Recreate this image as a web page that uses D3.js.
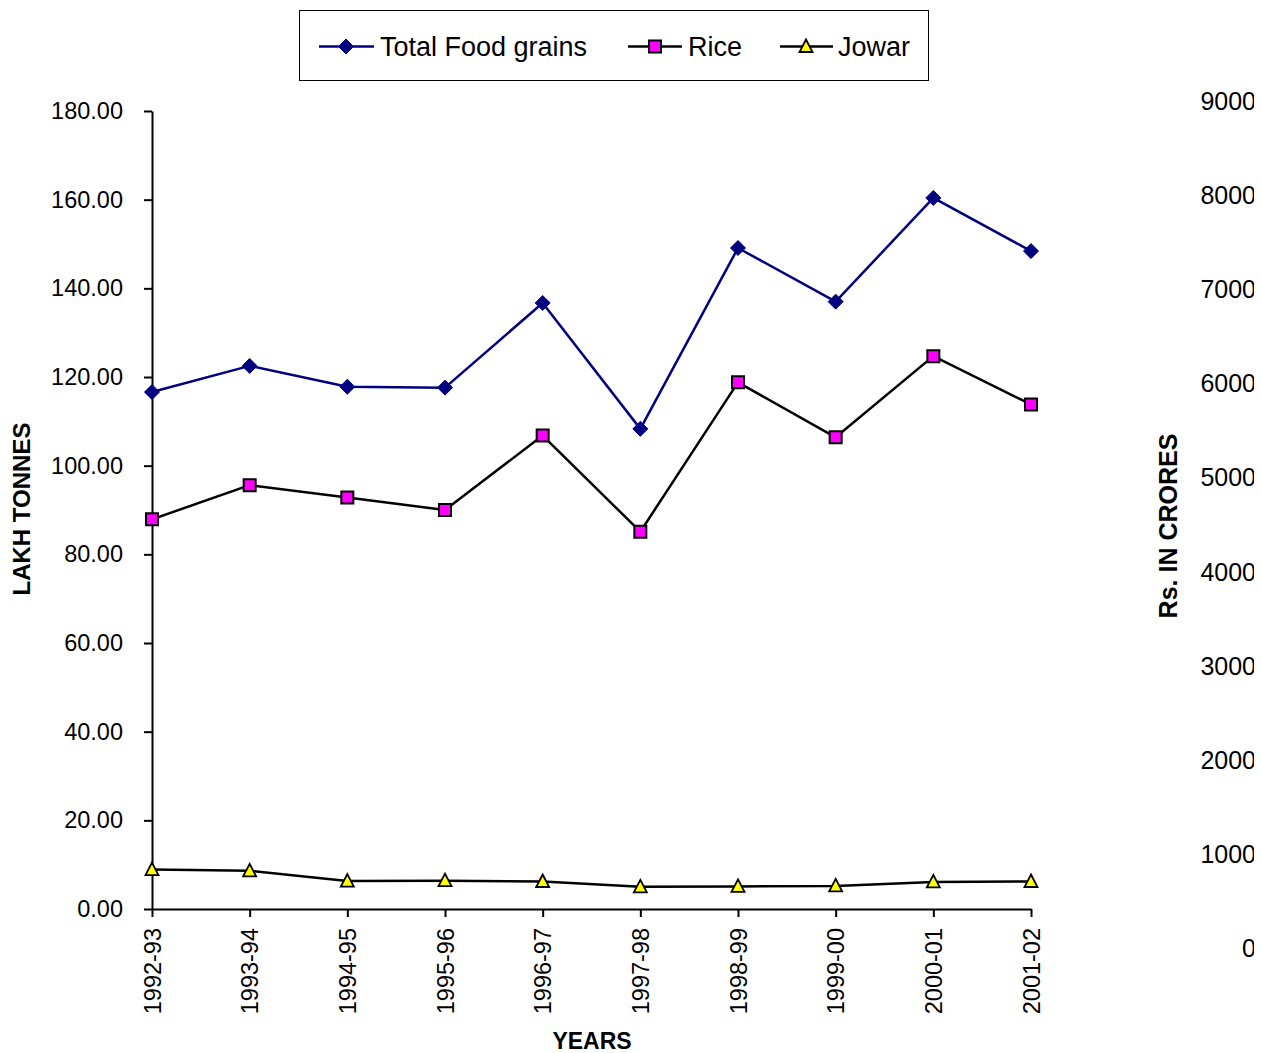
<!DOCTYPE html>
<html>
<head>
<meta charset="utf-8">
<script src="https://cdn.jsdelivr.net/npm/d3@7"></script>
<style>
  html, body { margin: 0; padding: 0; background: #fff; }
  svg { display: block; }
  text { font-family: "Liberation Sans", Arial, sans-serif; fill: #000; }
</style>
</head>
<body>
<svg id="chart" width="1261" height="1053"></svg>
<script>
// ---- data ----
const years = ["1992-93","1993-94","1994-95","1995-96","1996-97","1997-98","1998-99","1999-00","2000-01","2001-02"];
const totalFoodGrains = [116.6, 122.5, 117.8, 117.6, 136.7, 108.3, 149.1, 137.0, 160.4, 148.4];
const rice = [87.9, 95.6, 92.8, 90.0, 106.8, 85.1, 118.8, 106.4, 124.7, 113.8];
const jowar = [8.9, 8.6, 6.3, 6.4, 6.2, 5.0, 5.1, 5.2, 6.1, 6.2];
const leftTicks = [0, 20, 40, 60, 80, 100, 120, 140, 160, 180];
const rightTicks = [0, 1000, 2000, 3000, 4000, 5000, 6000, 7000, 8000, 9000];
const seriesNames = ["Total Food grains", "Rice", "Jowar"];

const svg = d3.select("#chart");

const x = d3.scalePoint().domain(years).range([152, 1031]);
const y = d3.scaleLinear().domain([0, 180]).range([909, 111]);
const yR = d3.scaleLinear().domain([0, 9000]).range([948, 101.5]);

// ---- left axis ----
const gy = svg.append("g").attr("transform", "translate(152,0)")
  .call(d3.axisLeft(y).tickValues(leftTicks).tickFormat(d3.format(".2f"))
    .tickSize(8).tickSizeOuter(0).tickPadding(21));
gy.selectAll("path, line").attr("stroke", "#000").attr("stroke-width", 2);
gy.selectAll("text").style("font-size", "23.5px").style("font-family", "Liberation Sans, Arial, sans-serif");

// ---- bottom axis ----
const gx = svg.append("g").attr("transform", "translate(0,909)")
  .call(d3.axisBottom(x).tickSize(8).tickSizeOuter(0));
gx.selectAll("path, line").attr("stroke", "#000").attr("stroke-width", 2);
gx.selectAll("text")
  .attr("transform", "rotate(-90)")
  .attr("x", -19).attr("y", 0).attr("dy", "0.35em")
  .attr("text-anchor", "end")
  .style("font-size", "23.5px").style("font-family", "Liberation Sans, Arial, sans-serif");

// ---- right axis labels (cut off at the edge) ----
svg.append("clipPath").attr("id", "rclip")
  .append("rect").attr("x", 0).attr("y", 0).attr("width", 1254).attr("height", 1053);
svg.append("g").attr("clip-path", "url(#rclip)")
  .selectAll("text").data(rightTicks).join("text")
  .attr("x", 1256).attr("y", d => yR(d)).attr("dy", "0.35em")
  .attr("text-anchor", "end")
  .style("font-size", "25px")
  .text(d => d);

// ---- axis titles ----
svg.append("text").attr("transform", "translate(30,509) rotate(-90)")
  .attr("text-anchor", "middle").style("font-size", "24px").style("font-weight", "bold")
  .text("LAKH  TONNES");
svg.append("text").attr("transform", "translate(1177,526) rotate(-90)")
  .attr("text-anchor", "middle").style("font-size", "25px").style("font-weight", "bold")
  .text("Rs. IN CRORES");
svg.append("text").attr("x", 592).attr("y", 1049)
  .attr("text-anchor", "middle").style("font-size", "23px").style("font-weight", "bold")
  .text("YEARS");

// ---- series ----
const diamond = "M0,-7.5L7.5,0L0,7.5L-7.5,0Z";
const square = "M-6,-6H6V6H-6Z";
const triangle = "M0,-7L6.5,5.5L-6.5,5.5Z";

const series = [
  { name: seriesNames[0], values: totalFoodGrains, line: "#000080", fill: "#000080", stroke: "#000080", sw: 1, shape: diamond },
  { name: seriesNames[1], values: rice, line: "#000000", fill: "#FF00FF", stroke: "#000000", sw: 2, shape: square },
  { name: seriesNames[2], values: jowar, line: "#000000", fill: "#FFFF00", stroke: "#000000", sw: 1.8, shape: triangle }
];

const lineGen = d3.line().x((d, i) => x(years[i])).y(d => y(d));

series.forEach(s => {
  svg.append("path").datum(s.values)
    .attr("fill", "none").attr("stroke", s.line).attr("stroke-width", 2.5)
    .attr("stroke-linejoin", "round")
    .attr("d", lineGen);
  svg.append("g").selectAll("path").data(s.values).join("path")
    .attr("transform", (d, i) => `translate(${x(years[i])},${y(d)})`)
    .attr("d", s.shape)
    .attr("fill", s.fill).attr("stroke", s.stroke).attr("stroke-width", s.sw)
    .attr("stroke-linejoin", "miter");
});

// ---- legend ----
const legend = svg.append("g");
legend.append("rect").attr("x", 299.5).attr("y", 10.5).attr("width", 629).attr("height", 70)
  .attr("fill", "#fff").attr("stroke", "#000").attr("stroke-width", 1);
const legendPos = [
  { x1: 319, x2: 374, mx: 346, tx: 380 },
  { x1: 628, x2: 682, mx: 655, tx: 688 },
  { x1: 780, x2: 833, mx: 806, tx: 838 }
];
series.forEach((s, i) => {
  const p = legendPos[i];
  legend.append("line").attr("x1", p.x1).attr("x2", p.x2).attr("y1", 46.5).attr("y2", 46.5)
    .attr("stroke", s.line).attr("stroke-width", 2.5);
  legend.append("path").attr("transform", `translate(${p.mx},46.5)`)
    .attr("d", s.shape).attr("fill", s.fill).attr("stroke", s.stroke).attr("stroke-width", s.sw);
  legend.append("text").attr("x", p.tx).attr("y", 46.5).attr("dy", "0.35em")
    .style("font-size", "27px").text(s.name);
});
</script>
</body>
</html>
